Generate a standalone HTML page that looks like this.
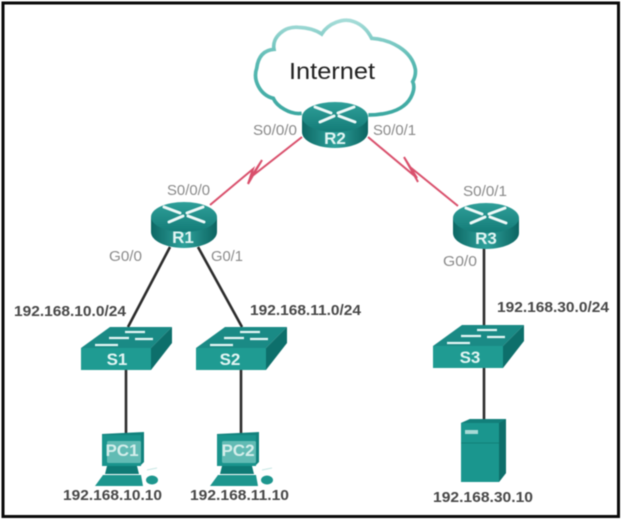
<!DOCTYPE html>
<html>
<head>
<meta charset="utf-8">
<style>
html,body{margin:0;padding:0;background:#fff;width:623px;height:522px;overflow:hidden}
svg{display:block;filter:blur(0.65px)}
text{font-family:"Liberation Sans",sans-serif}
.g{font-size:15px;fill:#8a8a8a}
.b{font-size:15px;font-weight:bold;fill:#484848}
.w{font-size:17px;font-weight:bold;fill:#e2f5f3;text-anchor:middle}
</style>
</head>
<body>
<svg width="623" height="522" viewBox="0 0 623 522" xmlns="http://www.w3.org/2000/svg">
<defs>
<linearGradient id="rb" x1="0" x2="1" y1="0" y2="0">
<stop offset="0" stop-color="#0d6764"/><stop offset=".5" stop-color="#2ea19b"/><stop offset="1" stop-color="#0c6461"/>
</linearGradient>
<linearGradient id="rt" x1="0" x2="0" y1="0" y2="1">
<stop offset="0" stop-color="#2f9f99"/><stop offset="1" stop-color="#147c78"/>
</linearGradient>
<linearGradient id="cl" x1="0" x2="0" y1="0" y2="1">
<stop offset="0" stop-color="#a5dcd8"/><stop offset=".45" stop-color="#58b9b2"/><stop offset="1" stop-color="#3ca8a1"/>
</linearGradient>
<g id="router">
<path d="M0,15V30C0,39 15,46 33,46S66,39 66,30V15Z" fill="url(#rb)"/>
<ellipse cx="33" cy="15" rx="33" ry="15" fill="url(#rt)"/>
<g stroke="#eef9f8" stroke-width="3" fill="none" stroke-linecap="round">
<path d="M13,5L29,11M52,5L36,11M18,20L32,14M53,20L37,14"/>
</g>
</g>
<g id="switch">
<path d="M0,21L29,0H91L70,21Z" fill="#1a8a85"/>
<path d="M70,21L91,0V16L70,43Z" fill="#0d6f6b"/>
<rect x="0" y="21" width="70" height="22" fill="#1f9b92"/>
<g stroke="#e4f6f4" stroke-width="2.2" fill="none">
<path d="M14,18H37M28,11H48M44,5H64M54,12H72"/>
</g>
</g>
<g id="pc">
<path d="M5,2L47,0V30L43,34H5Z" fill="#11827d"/>
<rect x="5" y="3" width="39" height="31" fill="#1a948d"/>
<rect x="10" y="9" width="34" height="22" rx="1.5" fill="#62bbb4"/>
<path d="M10,34H40L42,42H8Z" fill="#0e7a75"/>
<path d="M6,43L44,43L46,54H-2Z" fill="#1d968e"/>
<ellipse cx="55" cy="48" rx="6" ry="4.5" fill="#1d968e"/>
<path d="M50,38L60,36" stroke="#c5e6e3" stroke-width="1"/>
</g>
</defs>

<rect x="3" y="3" width="615.5" height="513.5" fill="#fff" stroke="#0a0a0a" stroke-width="3"/>

<g transform="translate(230,0) scale(.33333)">
<path d="M215,340C180,345 140,318 130,295C90,285 68,240 80,205C85,165 105,150 132,148C125,110 165,78 205,82C235,83 260,92 275,102C295,70 340,52 372,65C400,75 415,95 425,115C480,118 545,150 556,208C558,225 552,238 548,245C558,265 545,300 520,318C495,338 450,345 415,345" fill="#fff" stroke="url(#cl)" stroke-width="11"/>
</g>
<text x="289" y="79" font-size="23" fill="#222" textLength="86" lengthAdjust="spacingAndGlyphs">Internet</text>

<g fill="none" stroke="#d9506c" stroke-width="2">
<path d="M302,137L251,177L262,160L248,184L253,169L210,205"/>
<path d="M368,137L417,178L404,157L418,182L410,167L458,206"/>
</g>

<g fill="none" stroke="#2c2c2c" stroke-width="2.6">
<path d="M170,247L128,327M198,247L242,327"/>
<path d="M484,247V325"/>
<path d="M126,368V434M241,368V434M484,368V420"/>
</g>

<use href="#router" x="302" y="102"/>
<use href="#router" x="151" y="202"/>
<use href="#router" x="453" y="203"/>
<text class="w" x="335" y="144">R2</text>
<text class="w" x="183" y="243">R1</text>
<text class="w" x="486" y="244">R3</text>

<use href="#switch" x="81" y="327"/>
<use href="#switch" x="196" y="327"/>
<use href="#switch" x="433" y="325"/>
<text class="w" x="117" y="365">S1</text>
<text class="w" x="230" y="365">S2</text>
<text class="w" x="470" y="363">S3</text>

<use href="#pc" x="97" y="432"/>
<use href="#pc" x="212" y="432"/>
<text class="w" x="122" y="456" style="fill:#d5eeeb">PC1</text>
<text class="w" x="238" y="456" style="fill:#d5eeeb">PC2</text>

<path d="M461,423L470,419H506V473L499,482H461Z" fill="#1a968e"/>
<path d="M499,423L506,419V473L499,482Z" fill="#0e6f6b"/>
<path d="M461,423L470,419H506L499,423Z" fill="#127f7a"/>
<rect x="465" y="430" width="13" height="4" fill="#a8dad6"/>
<path d="M461,443H499" stroke="#128078" stroke-width="1"/>

<text class="g" x="253" y="135" textLength="44" lengthAdjust="spacingAndGlyphs">S0/0/0</text>
<text class="g" x="373" y="135" textLength="43" lengthAdjust="spacingAndGlyphs">S0/0/1</text>
<text class="g" x="167" y="195" textLength="43" lengthAdjust="spacingAndGlyphs">S0/0/0</text>
<text class="g" x="463" y="196" textLength="44" lengthAdjust="spacingAndGlyphs">S0/0/1</text>
<text class="g" x="109" y="261" textLength="33" lengthAdjust="spacingAndGlyphs">G0/0</text>
<text class="g" x="211" y="261" textLength="32" lengthAdjust="spacingAndGlyphs">G0/1</text>
<text class="g" x="443" y="266" textLength="34" lengthAdjust="spacingAndGlyphs">G0/0</text>

<text class="b" x="14" y="316" textLength="112" lengthAdjust="spacingAndGlyphs">192.168.10.0/24</text>
<text class="b" x="250" y="315" textLength="111" lengthAdjust="spacingAndGlyphs">192.168.11.0/24</text>
<text class="b" x="497" y="312" textLength="112" lengthAdjust="spacingAndGlyphs">192.168.30.0/24</text>
<text class="b" x="63" y="500" textLength="99" lengthAdjust="spacingAndGlyphs">192.168.10.10</text>
<text class="b" x="190" y="500" textLength="99" lengthAdjust="spacingAndGlyphs">192.168.11.10</text>
<text class="b" x="433" y="502" textLength="100" lengthAdjust="spacingAndGlyphs">192.168.30.10</text>
</svg>
</body>
</html>
